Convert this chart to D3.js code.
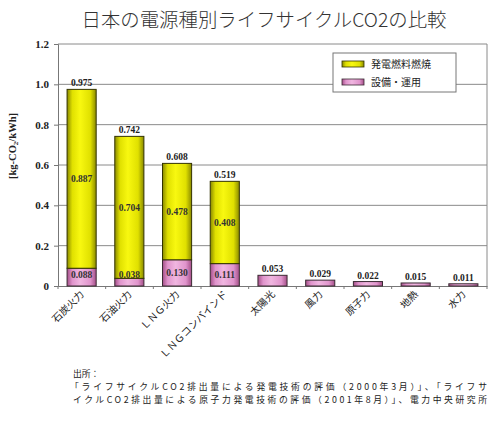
<!DOCTYPE html>
<html><head><meta charset="utf-8">
<script src="https://cdn.jsdelivr.net/npm/d3@7"></script>
<style>body{margin:0;background:#fff}svg{display:block}</style>
</head><body>
<script>
const categories = ["石炭火力","石油火力","ＬＮＧ火力","ＬＮＧコンバインド","太陽光","風力","原子力","地熱","水力"];
const fuel = [0.887,0.704,0.478,0.408,0,0,0,0,0];
const equip = [0.088,0.038,0.130,0.111,0.053,0.029,0.022,0.015,0.011];
const totals = [0.975,0.742,0.608,0.519,0.053,0.029,0.022,0.015,0.011];
const yTicks = [0,0.2,0.4,0.6,0.8,1.0,1.2];
const yTickLabels = ["0","0.2","0.4","0.6","0.8","1.0","1.2"];
const seriesNames = ["発電燃料燃焼","設備・運用"];
const title = "日本の電源種別ライフサイクルCO2の比較";
const sourceLines = ["出所：",
 "「ライフサイクルCO2排出量による発電技術の評価（2000年3月）」、「ライフサ",
 "イクルCO2排出量による原子力発電技術の評価（2001年8月）」、電力中央研究所"];

const W=500,H=424;
const svg=d3.select("body").append("svg").attr("width",W).attr("height",H);
const defs=svg.append("defs");
function grad(id,edge,mid,hi){
  const g=defs.append("linearGradient").attr("id",id).attr("x1","0").attr("x2","1").attr("y1","0").attr("y2","0");
  [[0,edge],[0.18,mid],[0.45,hi],[0.8,mid],[1,edge]].forEach(s=>g.append("stop").attr("offset",s[0]).attr("stop-color",s[1]));
}
grad("gy","#8a8a00","#e0e000","#f8f810");
grad("gp","#a44f88","#e094cc","#f0b6e0");

const L=58,R=487,T=44,B=286;
const x=d3.scaleBand().domain(categories).range([L,R]).paddingInner(0.39).paddingOuter(0.19);
const y=d3.scaleLinear().domain([0,1.2]).range([B,T]);

// title
svg.append("text").attr("x",264).attr("y",27).attr("text-anchor","middle")
 .attr("font-family","Noto Sans CJK JP").attr("font-size",19).attr("font-weight",300).attr("fill","#333")
 .attr("textLength",365).attr("lengthAdjust","spacingAndGlyphs").text(title);

// gridlines
svg.append("g").selectAll("line").data(yTicks.slice(1)).join("line")
 .attr("x1",L).attr("x2",R).attr("y1",d=>y(d)).attr("y2",d=>y(d))
 .attr("stroke","#8a8a8a").attr("stroke-width",1);
svg.append("line").attr("x1",R).attr("x2",R).attr("y1",T).attr("y2",B).attr("stroke","#8a8a8a");

// y axis
const ya=svg.append("g").attr("transform",`translate(${L},0)`)
 .call(d3.axisLeft(y).tickValues(yTicks).tickFormat((d,i)=>yTickLabels[i]).tickSize(4).tickPadding(5));
ya.select(".domain").attr("stroke","#777");
ya.selectAll(".tick line").attr("stroke","#777");
ya.selectAll("text").attr("font-family","Liberation Serif").attr("font-weight","bold").attr("font-size",11).attr("fill","#222");

// x axis
const xa=svg.append("g").attr("transform",`translate(0,${B})`)
 .call(d3.axisBottom(x).tickSize(0).tickFormat(""));
xa.select(".domain").attr("stroke","#777");
svg.append("g").selectAll("line").data(d3.range(categories.length+1)).join("line")
 .attr("x1",i=>L+(R-L)/categories.length*i).attr("x2",i=>L+(R-L)/categories.length*i)
 .attr("y1",B).attr("y2",B+3).attr("stroke","#777");

// y label
svg.append("text").attr("transform","translate(16,146) rotate(-90)").attr("text-anchor","middle")
 .attr("font-family","Liberation Serif").attr("font-weight","bold").attr("font-size",10.5).attr("fill","#222")
 .call(t=>{t.append("tspan").text("[kg-CO");t.append("tspan").attr("font-size",7).attr("dy",2).text("2");t.append("tspan").attr("dy",-2).text("/kWh]");});

// bars
const bw=x.bandwidth();
const g=svg.append("g");
categories.forEach((c,i)=>{
  const x0=x(c);
  if(equip[i]>0) g.append("rect").attr("x",x0).attr("width",bw).attr("y",y(equip[i])).attr("height",y(0)-y(equip[i]))
    .attr("fill","url(#gp)").attr("stroke","#3a2a33").attr("stroke-width",1);
  if(fuel[i]>0) g.append("rect").attr("x",x0).attr("width",bw).attr("y",y(equip[i]+fuel[i])).attr("height",y(equip[i])-y(equip[i]+fuel[i]))
    .attr("fill","url(#gy)").attr("stroke","#333300").attr("stroke-width",1);
});

const lab=svg.append("g").attr("font-family","Liberation Serif").attr("font-weight","bold").attr("font-size",9.5).attr("fill","#222").attr("text-anchor","middle");
categories.forEach((c,i)=>{
  const cx=x(c)+bw/2;
  lab.append("text").attr("x",cx).attr("y",y(totals[i])-3).text(totals[i].toFixed(3));
  if(fuel[i]>0){
    lab.append("text").attr("x",cx).attr("y",(y(equip[i])+y(equip[i]+fuel[i]))/2+3.5).attr("fill","#333").text(fuel[i].toFixed(3));
    lab.append("text").attr("x",cx).attr("y",Math.min((y(0)+y(equip[i]))/2,B-12)+3.5).attr("fill","#333").text(equip[i].toFixed(3));
  }
});

// x labels
svg.append("g").selectAll("text").data(categories).join("text")
 .attr("transform",d=>`translate(${x(d)+bw/2+3},${B+9}) rotate(-45)`)
 .attr("text-anchor","end").attr("font-family","Noto Sans CJK JP").attr("font-size",10).attr("fill","#222").text(d=>d);

// legend
const lg=svg.append("g");
lg.append("rect").attr("x",333).attr("y",53).attr("width",123).attr("height",39).attr("fill","#fff").attr("stroke","#777");
[["url(#gy)","#333300"],["url(#gp)","#3a2a33"]].forEach((s,i)=>{
  const yy=64+i*18;
  lg.append("rect").attr("x",342).attr("y",yy-3).attr("width",22).attr("height",6).attr("fill",s[0]).attr("stroke",s[1]).attr("stroke-width",0.8);
  lg.append("text").attr("x",371).attr("y",yy+4).attr("font-family","Noto Sans CJK JP").attr("font-size",10).attr("fill","#222").text(seriesNames[i]);
});

// source
const src=svg.append("g").attr("font-family","Noto Sans CJK JP").attr("font-size",8.8).attr("fill","#222");
src.append("text").attr("x",73).attr("y",377).text(sourceLines[0]);
src.append("text").attr("x",70).attr("y",390).attr("textLength",417).attr("lengthAdjust","spacing").text(sourceLines[1]);
src.append("text").attr("x",73).attr("y",403).attr("textLength",414).attr("lengthAdjust","spacing").text(sourceLines[2]);
</script>
</body></html>
